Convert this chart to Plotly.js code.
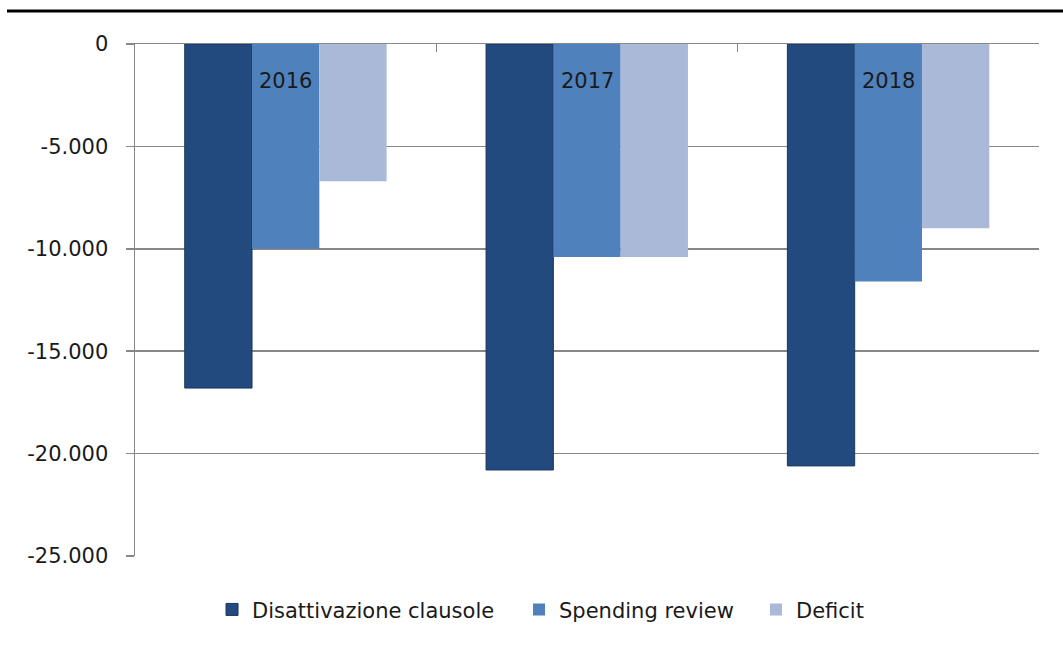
<!DOCTYPE html>
<html>
<head>
<meta charset="utf-8">
<script src="https://cdn.plot.ly/plotly-3.0.1.min.js"></script>
<style>
  html, body { margin: 0; padding: 0; background: #ffffff; }
  #chart { width: 1063px; height: 650px; }
</style>
</head>
<body>
<div id="chart"></div>
<script>
// Anni e serie (milioni di euro)
const years = ['2016', '2017', '2018'];
const seriesNames = ['Disattivazione clausole', 'Spending review', 'Deficit'];
const disattivazioneClausole = [-16800, -20800, -20600];
const spendingReview = [-10000, -10400, -11600];
const deficit = [-6700, -10400, -9000];
const yTicks = [0, -5000, -10000, -15000, -20000, -25000];

// Formato italiano: punto per le migliaia, trattino come segno meno
function formatIt(v) {
  const s = String(Math.abs(v)).replace(/\B(?=(\d{3})+(?!\d))/g, '.');
  return (v < 0 ? '-' : '') + s;
}
const yTickText = yTicks.map(formatIt);

const font = 'DejaVu Sans, Verdana, sans-serif';
const textColor = '#1a1a1a';
const gridColor = '#878787';
const fontSize = 21;

const traces = [
  {
    type: 'bar', name: seriesNames[0], x: years, y: disattivazioneClausole, legend: 'legend',
    marker: { color: '#234A7E', line: { color: '#17375E', width: 1 } }
  },
  {
    type: 'bar', name: seriesNames[1], x: years, y: spendingReview, legend: 'legend2',
    marker: { color: '#4F81BD', line: { width: 0 } }
  },
  {
    type: 'bar', name: seriesNames[2], x: years, y: deficit, legend: 'legend3',
    marker: { color: '#AAB9D8', line: { width: 0 } }
  }
];

// Etichette degli anni appese alla linea dello zero (posizione = indice di categoria)
const yearLabels = years.map((yr, i) => ({
  x: i, y: 0, xref: 'x', yref: 'y',
  text: yr, showarrow: false,
  yanchor: 'top', yshift: -23,
  font: { family: font, size: fontSize, color: textColor }
}));

// Una legenda per serie, per spaziare le voci in fondo al grafico
function legendAt(x) {
  return {
    orientation: 'h', x: x, xanchor: 'left',
    y: -0.105, yanchor: 'middle',
    bgcolor: 'rgba(0,0,0,0)',
    font: { family: font, size: fontSize, color: textColor }
  };
}

const layout = {
  width: 1063, height: 650,
  margin: { l: 135, r: 24, t: 44, b: 94, autoexpand: false },
  paper_bgcolor: '#ffffff', plot_bgcolor: '#ffffff',
  barmode: 'group', bargap: 0.33, bargroupgap: 0,
  font: { family: font, size: fontSize, color: textColor },
  showlegend: true,
  xaxis: {
    type: 'category', side: 'top', range: [-0.5, years.length - 0.5],
    showline: true, linecolor: gridColor, linewidth: 1.5,
    ticks: 'inside', tickson: 'boundaries', ticklen: 8, tickcolor: gridColor, tickwidth: 1.5,
    showticklabels: false, showgrid: false, zeroline: false, fixedrange: true
  },
  yaxis: {
    range: [-25000, 0], tickmode: 'array', tickvals: yTicks, ticktext: yTickText,
    showline: true, linecolor: gridColor, linewidth: 1.5,
    ticks: 'outside', ticklen: 8, tickcolor: gridColor, tickwidth: 1.5,
    ticklabelstandoff: 13,
    showgrid: true, gridcolor: gridColor, gridwidth: 1.5, zeroline: false,
    tickfont: { family: font, size: fontSize, color: textColor }, fixedrange: true
  },
  legend: legendAt(0.0852),
  legend2: legendAt(0.4248),
  legend3: legendAt(0.6869),
  annotations: yearLabels,
  shapes: [{
    type: 'line', xref: 'paper', yref: 'paper',
    x0: -0.1416, x1: 1.03, y0: 1.0645, y1: 1.0645,
    line: { color: '#000000', width: 3 }
  }]
};

Plotly.newPlot('chart', traces, layout, { displayModeBar: false, staticPlot: true });
</script>
</body>
</html>
